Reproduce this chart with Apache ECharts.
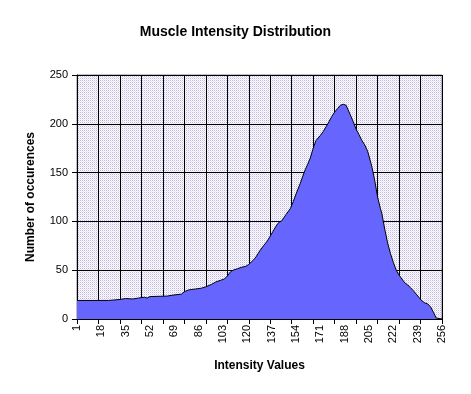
<!DOCTYPE html>
<html>
<head>
<meta charset="utf-8">
<script src="https://cdn.jsdelivr.net/npm/echarts@6/dist/echarts.min.js"></script>
<style>html,body{margin:0;padding:0;background:#fff}#c{width:471px;height:394px}</style>
</head>
<body>
<div id="c"></div>
<script>
var sampleIntensity = [1,23,24,31,32,35,36,40,41,44,45,48,49,50,52,64,65,68,69,74,75,76,79,84,88,91,95,98,101,104,106,108,110,113,116,119,121,124,126,129,131,134,136,138,140,142,144,147,150,152,154,157,160,162,164,166,168,171,173,175,177,179,181,183,185,187,188,189,190,192,194,196,198,200,202,204,205,207,209,211,213,214,216,218,220,222,224,226,228,230,232,234,236,238,240,242,244,246,248,250,252,253,256];
var sampleCount = [19,19,20,20,21,21,20.5,20.5,21,21.5,22.3,22.3,21.5,21.5,23,23.5,24.5,24.5,25.5,25.5,27,28,29.8,30.8,31.6,33,35.5,38,39.5,41,44,48,50,51.5,53,54,56,60,63.5,70.5,74.5,80,85,90,95,99,100.5,107,113,120,128,139,151.5,158,165,175,183,188,192,197,202,207.5,212,215.5,219,220,221,219,217,209,202,194.5,189,183,178.5,172,167,156,142,125,113,108,92,78,67,58,50,45,41,37,35,32,29,25.5,22,18.5,16.5,15.5,12.5,7,1,0,0];
// Category axis: intensity values 1..256
var categories = [];
for (var i = 1; i <= 256; i++) categories.push(String(i));
var yTicks = [0, 50, 100, 150, 200, 250];

var pc = document.createElement('canvas');
pc.width = 2; pc.height = 2;
var g = pc.getContext('2d');
g.fillStyle = '#ffffff'; g.fillRect(0,0,2,2);
g.fillStyle = '#b2baf0'; g.fillRect(0,0,1,1);
g.fillStyle = '#f2dcec'; g.fillRect(1,1,1,1);

var data = sampleIntensity.map(function (x, k) { return [String(x), sampleCount[k]]; });

var chart = echarts.init(document.getElementById('c'), null, {renderer: 'canvas'});
var font = '"Liberation Sans", Arial, sans-serif';
chart.setOption({
  animation: false,
  backgroundColor: '#ffffff',
  title: {
    text: 'Muscle Intensity Distribution',
    left: 'center', top: 20,
    textStyle: {fontFamily: font, fontSize: 14, fontWeight: 'bold', color: '#000'}
  },
  grid: {
    left: 77, right: 29, top: 75, bottom: 75,
    show: true,
    backgroundColor: {image: pc, repeat: 'repeat'},
    borderColor: '#808080', borderWidth: 1
  },
  xAxis: {
    type: 'category',
    data: categories,
    boundaryGap: false,
    name: 'Intensity Values',
    nameLocation: 'middle',
    nameGap: 41,
    nameMoveOverlap: false,
    nameTextStyle: {fontFamily: font, fontSize: 12, fontWeight: 'bold', color: '#000'},
    axisLine: {lineStyle: {color: '#000', width: 1}},
    axisTick: {show: true, interval: 14, length: 5, lineStyle: {color: '#000'}},
    splitLine: {show: true, interval: 14, lineStyle: {color: '#000', width: 1}},
    axisLabel: {interval: 16, rotate: 90, margin: 6, fontFamily: font, fontSize: 11, color: '#000'}
  },
  yAxis: {
    type: 'value',
    min: yTicks[0], max: yTicks[yTicks.length - 1], interval: 50,
    name: 'Number of occurences',
    nameLocation: 'middle',
    nameGap: 40,
    nameMoveOverlap: false,
    nameTextStyle: {fontFamily: font, fontSize: 12, fontWeight: 'bold', color: '#000'},
    axisLine: {show: true, lineStyle: {color: '#000', width: 1}},
    axisTick: {show: true, length: 5, lineStyle: {color: '#000'}},
    splitLine: {show: true, lineStyle: {color: '#000', width: 1}},
    axisLabel: {margin: 9, fontFamily: font, fontSize: 11, color: '#000'}
  },
  series: [{
    type: 'line',
    data: data,
    symbol: 'none',
    smooth: false,
    lineStyle: {color: '#000', width: 1},
    areaStyle: {color: '#6666ff', opacity: 1}
  }]
});
</script>
</body>
</html>
